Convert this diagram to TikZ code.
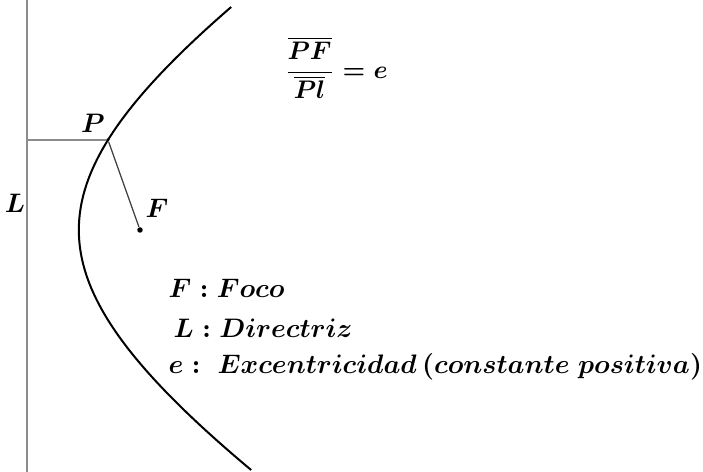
\documentclass[tikz,border=0pt]{standalone}
\usepackage{amsmath,amssymb}
\usetikzlibrary{positioning}

\begin{document}
\begin{tikzpicture}[
        x=0.4pt, y=-0.4pt,
        recta/.style={draw=gray!90, line width=0.55pt},
        radio/.style={draw=black!75, line width=0.5pt},
        rama/.style={draw=black, line width=0.8pt},
        punto/.style={circle, fill=black, inner sep=0pt, minimum size=#1},
        etiq/.style={inner sep=0pt, font=\boldmath, scale=1.07, transform shape}
    ]
        \useasboundingbox (0,0) rectangle (703,472);

        % Directriz
        \coordinate (Ltop) at (27,0);
        \coordinate (Lbot) at (27,472);
        \draw[recta] (Ltop) -- (Lbot);

        % Rama de la hiperbola, e = 1.18
        \draw[rama] plot[domain=-22.3:24, samples=90, smooth]
            ({27+10*(-11.3+sqrt(1.3924*127.69+0.3924*\x*\x))/0.3924}, {230+10*\x});

        % Puntos
        \node[punto=1.4pt] (P) at (108,140) {};
        \node[punto=2.2pt] (F) at (140,230) {};
        \coordinate (Q) at (27,140);

        \draw[recta] (Q) -- (P);
        \draw[radio] (P) -- (F);

        % Etiquetas
        \node[etiq] (lP) at (93,123) {$P$};
        \node[etiq] (lF) at (157,208) {$F$};
        \node[etiq] (lL) at (15,203) {$L$};

        \node[etiq, anchor=west, scale=0.95] (razon) at (284,68) {$\dfrac{\overline{PF}}{\overline{Pl}}=e$};

        % Leyenda
        \node[etiq, anchor=west] (foco) at (168,288) {$F:Foco$};
        \node[etiq, anchor=west] (dir) at (173,328) {$L:Directriz$};
        \node[etiq, anchor=west] (exc) at (168,367) {$e:\;Excentricidad\,(constante\;positiva)$};
    \end{tikzpicture}
\end{document}
